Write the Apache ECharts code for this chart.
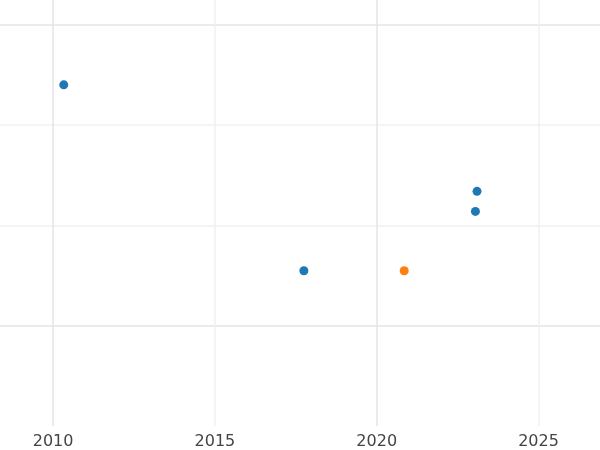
<!DOCTYPE html>
<html>
<head>
<meta charset="utf-8">
<script src="https://cdn.jsdelivr.net/npm/echarts@6/dist/echarts.min.js"></script>
<style>html,body{margin:0;padding:0;background:#fff}#main{width:600px;height:450px}</style>
</head>
<body>
<div id="main"></div>
<script>
// data
var blueX = [2010.33, 2017.75, 2023.05, 2023.1];
var blueY = [2.40, 0.55, 1.14, 1.34];
var orangeX = [2020.85];
var orangeY = [0.55];
var xTicks = [2010, 2015, 2020, 2025];
var yTicks = [0, 1, 2, 3];

function pairs(xs, ys) {
    return xs.map(function (x, i) { return [x, ys[i]]; });
}

var myChart = echarts.init(document.getElementById('main'));
var option = {
    animation: false,
    grid: { left: 0, right: 0, top: 0, bottom: 24, containLabel: false },
    xAxis: {
        type: 'value',
        min: 2008.36, max: 2026.9,
        axisLine: { show: false },
        axisTick: { show: false, customValues: xTicks },
        axisLabel: {
            fontSize: 16, color: '#444', fontFamily: 'DejaVu Sans', margin: 8,
            customValues: xTicks,
            formatter: function (v) { return String(v); }
        },
        splitLine: {
            show: true,
            lineStyle: { color: ['#e4e4e4', '#f0f0f0'], width: 1.5 }
        }
    },
    yAxis: {
        type: 'value',
        min: -0.995, max: 3.244,
        axisLine: { show: false },
        axisTick: { show: false, customValues: yTicks },
        axisLabel: { show: false, customValues: yTicks },
        splitLine: {
            show: true,
            lineStyle: { color: ['#e4e4e4', '#f0f0f0', '#f0f0f0', '#e4e4e4'], width: 1.5 }
        }
    },
    series: [
        {
            type: 'scatter', symbolSize: 9,
            itemStyle: { color: '#1f77b4', opacity: 1 },
            data: pairs(blueX, blueY)
        },
        {
            type: 'scatter', symbolSize: 9,
            itemStyle: { color: '#ff7f0e', opacity: 1 },
            data: pairs(orangeX, orangeY)
        }
    ]
};
myChart.setOption(option);
</script>
</body>
</html>
